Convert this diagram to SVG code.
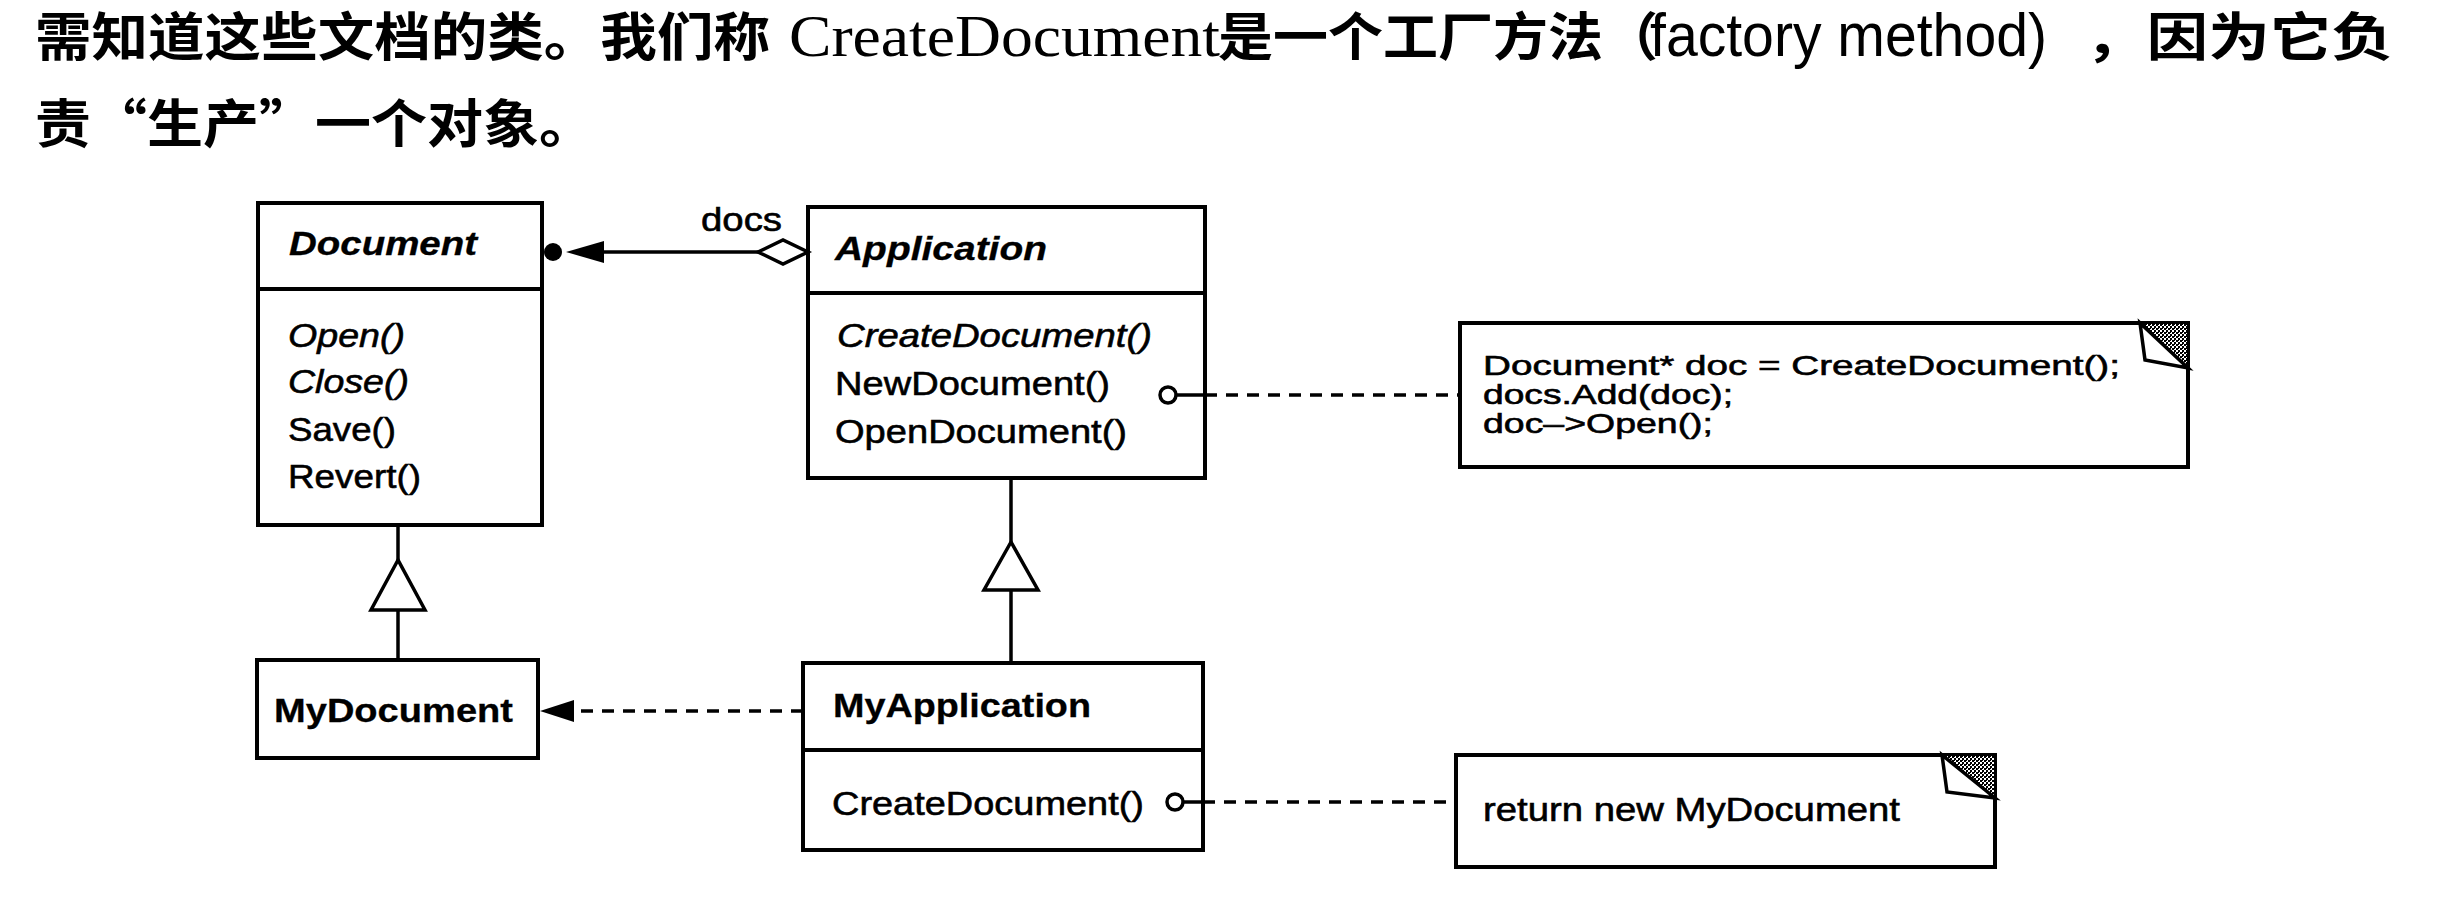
<svg xmlns="http://www.w3.org/2000/svg" width="2450" height="902" viewBox="0 0 2450 902">
<style>
.box{fill:#fff;stroke:#000;stroke-width:4}
.ln{stroke:#000;stroke-width:3.5;fill:none}
.dash{stroke-dasharray:12 9}
.t{font-family:"Liberation Sans",Arial,sans-serif;font-size:34px;fill:#000;stroke:#000;stroke-width:0.6}
.b{font-weight:bold;stroke-width:0.3}
.i{font-style:italic}
.cjk{font-family:"Noto Sans CJK SC","Noto Sans CJK JP",sans-serif;font-size:52px;font-weight:bold;fill:#000}
.serif{font-family:"Liberation Serif","Times New Roman",serif;font-size:60px;fill:#000}
.sans{font-family:"Liberation Sans",Arial,sans-serif;font-size:62px;fill:#000}
.note{font-size:28px}
.shade{fill:url(#dots);stroke:#000;stroke-width:2}
.flap{fill:#fff;stroke:#000;stroke-width:3.5}
</style>
<defs>
<pattern id="dots" width="4" height="4" patternUnits="userSpaceOnUse">
<rect width="4" height="4" fill="#fff"/>
<rect width="2" height="2" fill="#000"/>
<rect x="2" y="2" width="2" height="2" fill="#000"/>
<rect x="2" y="0" width="1" height="1" fill="#000"/>
</pattern>
</defs>
<rect width="2450" height="902" fill="#fff"/>

<g id="caption">
<text class="cjk" x="35" y="56" textLength="735" lengthAdjust="spacingAndGlyphs">需知道这些文档的类。我们称</text>
<text class="serif" x="789" y="56" textLength="431" lengthAdjust="spacingAndGlyphs">CreateDocument</text>
<text class="cjk" x="1218" y="56" textLength="440" lengthAdjust="spacingAndGlyphs">是一个工厂方法（</text>
<text class="sans" x="1650" y="56" textLength="397" lengthAdjust="spacingAndGlyphs">factory method)</text>
<text class="cjk" x="2085" y="56" textLength="308" lengthAdjust="spacingAndGlyphs">，因为它负</text>
<text class="cjk" x="35" y="143" textLength="560" lengthAdjust="spacingAndGlyphs">责“生产”一个对象。</text>
</g>

<g id="Document">
<rect class="box" x="258" y="203" width="284" height="322"/>
<line class="box" x1="258" y1="289" x2="542" y2="289"/>
<text class="t b i" x="289" y="255" textLength="188" lengthAdjust="spacingAndGlyphs">Document</text>
<text class="t i" x="288" y="347" textLength="117" lengthAdjust="spacingAndGlyphs">Open()</text>
<text class="t i" x="288" y="393" textLength="121" lengthAdjust="spacingAndGlyphs">Close()</text>
<text class="t" x="288" y="441" textLength="108" lengthAdjust="spacingAndGlyphs">Save()</text>
<text class="t" x="288" y="488" textLength="133" lengthAdjust="spacingAndGlyphs">Revert()</text>
</g>

<g id="Application">
<rect class="box" x="808" y="207" width="397" height="271"/>
<line class="box" x1="808" y1="293" x2="1205" y2="293"/>
<text class="t b i" x="835" y="260" textLength="212" lengthAdjust="spacingAndGlyphs">Application</text>
<text class="t i" x="837" y="347" textLength="315" lengthAdjust="spacingAndGlyphs">CreateDocument()</text>
<text class="t" x="835" y="395" textLength="275" lengthAdjust="spacingAndGlyphs">NewDocument()</text>
<text class="t" x="835" y="443" textLength="292" lengthAdjust="spacingAndGlyphs">OpenDocument()</text>
</g>

<g id="MyDocument">
<rect class="box" x="257" y="660" width="281" height="98"/>
<text class="t b" x="274" y="722" textLength="239" lengthAdjust="spacingAndGlyphs">MyDocument</text>
</g>

<g id="MyApplication">
<rect class="box" x="803" y="663" width="400" height="187"/>
<line class="box" x1="803" y1="750" x2="1203" y2="750"/>
<text class="t b" x="833" y="717" textLength="258" lengthAdjust="spacingAndGlyphs">MyApplication</text>
<text class="t" x="832" y="815" textLength="312" lengthAdjust="spacingAndGlyphs">CreateDocument()</text>
</g>

<g id="note-newdocument">
<rect class="box" x="1460" y="323" width="728" height="144"/>
<polygon class="shade" points="2140,323 2188,323 2188,368"/>
<polygon class="flap" points="2140,323 2145,360 2188,368"/>
<text class="t note"><tspan x="1483" y="375" textLength="637" lengthAdjust="spacingAndGlyphs">Document* doc = CreateDocument();</tspan><tspan x="1483" y="404" textLength="250" lengthAdjust="spacingAndGlyphs">docs.Add(doc);</tspan><tspan x="1483" y="433" textLength="230" lengthAdjust="spacingAndGlyphs">doc–&gt;Open();</tspan></text>
</g>

<g id="note-createdocument">
<rect class="box" x="1456" y="755" width="539" height="112"/>
<polygon class="shade" points="1942,755 1995,755 1995,798"/>
<polygon class="flap" points="1942,755 1947,792 1995,798"/>
<text class="t" x="1483" y="821" textLength="417" lengthAdjust="spacingAndGlyphs">return new MyDocument</text>
</g>

<g id="connectors">
<line class="ln" x1="600" y1="252" x2="760" y2="252"/>
<polygon points="758,252 783,240 808,252 783,264" fill="#fff" stroke="#000" stroke-width="3.5"/>
<polygon points="566,252 604,241 604,263" fill="#000"/>
<circle cx="553" cy="252" r="9" fill="#000"/>
<text class="t" x="701" y="231" style="font-size:33px" textLength="81" lengthAdjust="spacingAndGlyphs">docs</text>
<line class="ln" x1="398" y1="525" x2="398" y2="560"/>
<polygon points="398,560 371,610 425,610" fill="#fff" stroke="#000" stroke-width="3.5"/>
<line class="ln" x1="398" y1="610" x2="398" y2="660"/>
<line class="ln" x1="1011" y1="478" x2="1011" y2="542"/>
<polygon points="1011,542 984,590 1038,590" fill="#fff" stroke="#000" stroke-width="3.5"/>
<line class="ln" x1="1011" y1="590" x2="1011" y2="663"/>
<line class="ln dash" x1="803" y1="711" x2="578" y2="711"/>
<polygon points="540,711 574,700 574,722" fill="#000"/>
<line class="ln" x1="1176" y1="395" x2="1205" y2="395"/>
<line class="ln dash" x1="1205" y1="395" x2="1460" y2="395"/>
<circle cx="1168" cy="395" r="8" fill="#fff" stroke="#000" stroke-width="3.5"/>
<line class="ln" x1="1183" y1="802" x2="1203" y2="802"/>
<line class="ln dash" x1="1203" y1="802" x2="1456" y2="802"/>
<circle cx="1175" cy="802" r="8" fill="#fff" stroke="#000" stroke-width="3.5"/>
</g>
</svg>
